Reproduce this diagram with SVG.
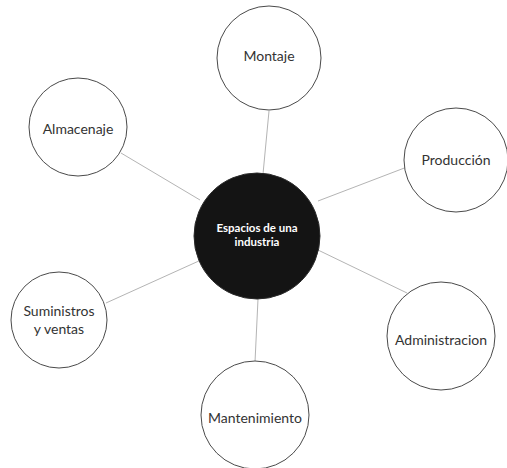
<svg xmlns="http://www.w3.org/2000/svg" width="507" height="468" viewBox="0 0 507 468">
  <style>
    .bubble { fill: #ffffff; stroke: #4a4a4a; stroke-width: 1; }
    .hub { fill: #141414; stroke: #2a2a2a; stroke-width: 1; }
    .label { font-family: Lato, "Noto Sans", "Liberation Sans", sans-serif; font-size: 14px; fill: #333333; text-anchor: middle; dominant-baseline: central; }
    .hub-label { font-family: Lato, "Noto Sans", "Liberation Sans", sans-serif; font-size: 11.5px; font-weight: bold; fill: #ffffff; text-anchor: middle; dominant-baseline: central; }
    .link { stroke: #b4b4b4; stroke-width: 1; fill: none; }
  </style>
  <rect width="507" height="468" fill="#ffffff"/>

  <!-- spokes from the hub to each area -->
  <g id="connectors">
    <line class="link" x1="269" y1="111" x2="263" y2="174"/>
    <line class="link" x1="121" y1="153" x2="200" y2="200"/>
    <line class="link" x1="407" y1="167" x2="318" y2="201"/>
    <line class="link" x1="106" y1="303" x2="201" y2="260"/>
    <line class="link" x1="258" y1="299" x2="255" y2="362"/>
    <line class="link" x1="318" y1="250" x2="407" y2="293"/>
  </g>

  <g id="node-montaje">
    <circle class="bubble" cx="269" cy="58" r="52"/>
    <text class="label" x="269" y="55">Montaje</text>
  </g>

  <g id="node-almacenaje">
    <circle class="bubble" cx="78" cy="127" r="49"/>
    <text class="label" x="78" y="128">Almacenaje</text>
  </g>

  <g id="node-produccion">
    <circle class="bubble" cx="456" cy="160" r="52"/>
    <text class="label" x="456" y="159">Producción</text>
  </g>

  <g id="node-suministros">
    <circle class="bubble" cx="59" cy="320" r="48"/>
    <text class="label" x="59" y="310">Suministros</text>
    <text class="label" x="59" y="328">y ventas</text>
  </g>

  <g id="node-mantenimiento">
    <circle class="bubble" cx="255" cy="415" r="54"/>
    <text class="label" x="255" y="417">Mantenimiento</text>
  </g>

  <g id="node-administracion">
    <circle class="bubble" cx="441" cy="336" r="54"/>
    <text class="label" x="441" y="339">Administracion</text>
  </g>

  <g id="node-hub">
    <circle class="hub" cx="257" cy="236" r="63"/>
    <text class="hub-label" x="257" y="227">Espacios de una</text>
    <text class="hub-label" x="257" y="241">industria</text>
  </g>
</svg>
